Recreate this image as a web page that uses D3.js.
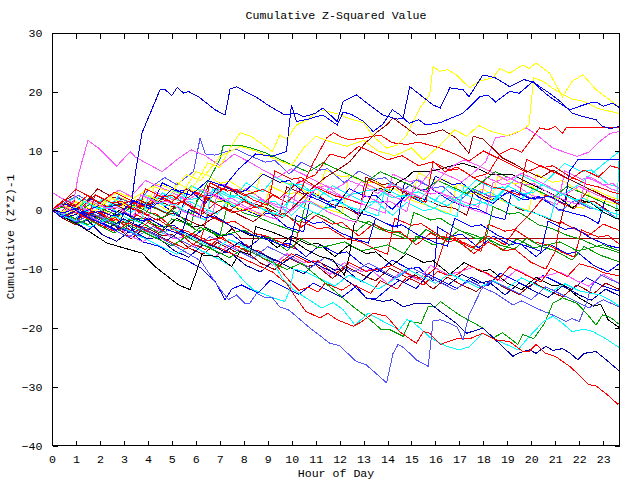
<!DOCTYPE html>
<html><head><meta charset="utf-8">
<script src="https://cdn.jsdelivr.net/npm/d3@7"></script>
<style>body{margin:0;background:#fff}svg{display:block}text{font-family:"Liberation Mono","DejaVu Sans Mono",monospace;font-size:11.6px;fill:#000}</style>
</head><body><svg id="c" width="640" height="480"></svg>
<script>
const title = "Cumulative Z-Squared Value";
const xTitle = "Hour of Day";
const yTitle = "Cumulative (Z*Z)-1";
const xTicks = d3.range(0, 24);
const yTicks = [-40, -30, -20, -10, 0, 10, 20, 30];

const s01 = [[0,0],[0.5,-0.5],[1,0.3],[1.5,-0.8],[2,-0.2],[2.5,-1],[3,-0.5],[3.25,-1],[3.47,6],[3.75,13],[4.51,20.4],[4.72,20.4],[5.0,19.4],[5.23,20.8],[5.49,19.8],[5.69,20.1],[6.11,19.2],[6.8,17.0],[7.22,16.1],[7.43,20.5],[7.7,20.9],[8.05,20.1],[8.5,19.2],[9.0,17.8],[9.72,16.1],[10.2,16.4],[10.5,15.8],[11.0,16.4],[11.3,17.3],[11.9,15.0],[12.15,18.4],[12.7,19.5],[13.8,16.1],[14.4,15.4],[14.65,15.6],[14.93,20.9],[15.9,17.8],[16.2,17.3],[16.6,20.7],[17.15,20.4],[17.4,19.2],[17.98,22.9],[18.5,22.4],[19.1,20.9],[19.7,22.1],[20.1,21.6],[20.76,19.8],[21.3,18.1],[21.7,16.4],[22.2,15.8],[22.7,15.3],[22.97,14.2],[23.3,13.8],[23.7,14.2]];
const s02 = [[0,0],[0.6,1],[1.2,-0.5],[2,0.8],[2.8,-0.6],[3.4,1.5],[4.2,0.5],[5,3.5],[5.8,2.5],[6.5,5],[7.2,4],[7.8,7],[8.5,9.5],[9.17,9.1],[9.78,9.9],[9.99,17.8],[10.2,15.0],[10.7,15.4],[11.0,15.8],[11.3,16.1],[11.9,14.4],[12.15,16.6],[12.5,16.2],[13.0,15.0],[13.4,13.3],[13.8,14.5],[14.2,17.0],[14.5,16.2],[14.9,14.7],[15.3,15.3],[15.6,14.4],[16.2,14.8],[16.6,15.5],[17.15,16.4],[17.85,19.2],[18.2,19.5],[18.5,18.3],[19.1,20.1],[19.5,19.8],[20.07,21.8],[20.35,20.6],[20.76,19.2],[21.6,17.0],[22.4,18.1],[22.7,18.3],[23.0,17.6],[23.4,18.1],[23.7,17.3]];
const s03 = [[0,0],[0.5,0.8],[1,-0.3],[1.5,1.2],[2,0.5],[2.5,2],[3,1],[3.5,0.5],[4,2.5],[4.5,1.5],[5,3.5],[5.5,2.8],[6,4.5],[6.5,8],[7,7.2],[7.5,11],[7.85,13.1],[8.3,12.5],[9.2,9.9],[9.5,12.7],[9.8,12],[10.2,14.4],[10.6,15.2],[11.2,17.0],[11.9,16.3],[12.4,15.5],[13,14.8],[13.4,12.5],[13.96,10.5],[14.4,11],[14.8,12.7],[15.35,17.3],[15.76,19.5],[15.9,24.3],[16.18,23.5],[16.5,23.8],[16.87,22.9],[17.43,20.7],[17.8,21.8],[18.4,22.4],[18.68,24.0],[19.1,23.2],[19.65,24.6],[19.9,24.0],[20.2,24.9],[20.76,23.2],[21.3,19.2],[21.7,21.8],[22.15,22.9],[22.7,20.4],[23.26,18.7],[23.7,17.3]];
const s04 = [[0,0],[0.7,-0.6],[1.3,1.5],[2,0.8],[2.7,3],[3.4,2],[4.2,4],[5,3],[5.6,6],[6.2,5],[7,9],[7.85,10.8],[8.5,10],[9.5,8.3],[10,7.6],[10.5,10.5],[11,12.5],[11.6,11.6],[12.3,10.8],[13,11.8],[13.6,10],[14.3,9.2],[15,10.5],[15.5,8.5],[16.2,11],[16.8,13.6],[17.3,12.5],[17.8,14.3],[18.4,13.2],[19,12.6],[19.6,13.5],[19.9,14.4],[20.1,22.4],[20.5,21.8],[20.9,20.6],[21.3,19.6],[21.7,18.8],[22.2,18.4],[22.8,17.2],[23.3,16.7],[23.7,16.3]];
const s05 = [[0,0],[0.5,1.8],[1,0.8],[1.5,2.5],[2,1],[2.6,0.2],[3.2,1.5],[3.8,0.5],[4.5,2],[5.2,0.8],[6,3],[6.6,2],[7.3,4],[8,2.5],[8.8,3.5],[9.5,2],[10.2,4.5],[11,6],[11.6,9.5],[12.2,8.8],[12.8,10.8],[13.4,9.7],[14,8.5],[14.6,9.2],[15.3,7.5],[15.9,8.2],[16.4,6.5],[16.9,7.3],[17.6,5.5],[18.2,6.2],[18.7,9.5],[19.2,10.5],[19.6,9.8],[19.93,11.6],[20.35,13.9],[20.7,13.6],[21.0,14.2],[21.3,13.0],[21.46,14.0],[23.7,14.0]];
const s06 = [[0,0],[0.5,-0.6],[1,0.8],[1.5,0],[2,-0.7],[2.6,1.5],[3.2,0.4],[3.8,-0.6],[4.4,-1.7],[5,-0.5],[5.6,-1.6],[6.2,-2.7],[6.8,-1.2],[7.4,-2.6],[7.9,-4.9],[23.7,-4.9]];
const s07 = [[0,0],[0.6,1.2],[1.2,0.3],[1.8,2.5],[2.4,1.4],[3,0.2],[3.6,1.8],[4.2,0.6],[4.8,-0.6],[5.4,1.5],[6,0.3],[6.6,-1],[7.2,0.5],[7.8,-0.8],[8.4,-2],[9,0],[9.6,-1.3],[10.2,1],[10.8,3.5],[11.4,5.5],[12,7],[12.43,8.2],[13,11],[13.5,13],[13.96,14.4],[14.23,15.6],[14.7,14.2],[15.2,12.7],[15.7,12.9],[16.3,13.6],[16.87,12.2],[17.4,9.6],[17.57,12.5],[18,12],[18.8,8.8],[19.3,7.8],[19.8,6.6],[20.4,5.5],[20.9,6.8],[21.4,5.6],[22,4.4],[22.6,3.2],[23.2,2],[23.7,0.8]];
const s08 = [[0,0],[0.5,1.5],[1,3.5],[1.5,2.4],[2,1.2],[2.6,3],[3.2,1.8],[3.8,0.6],[4.4,2.5],[5,1.3],[5.6,3.6],[6.2,2.4],[6.8,1.1],[7.4,-0.1],[8,1.5],[8.6,0.3],[9.2,2.5],[9.8,1.3],[10.4,3.5],[10.9,8],[11.46,12.2],[11.74,13.1],[12.1,12.3],[12.4,11.9],[13,12.2],[13.7,12.7],[14.2,11.4],[14.8,11.1],[15.3,11.5],[16.2,10.5],[16.8,9.5],[17.4,8.3],[18,10],[18.6,8.8],[19.2,7.6],[19.8,6.4],[20.4,7.5],[21,6.3],[21.6,5.1],[22.2,6.8],[22.8,5.6],[23.3,7.5],[23.7,7]];
const s09 = [[0,0],[0.5,-1.2],[1,-2.3],[1.53,-3.6],[2.29,-5.6],[3.05,-6.5],[3.75,-7.3],[4.3,-9.6],[5.28,-12.7],[5.76,-13.5],[6.1,-9.6],[6.25,-7.6],[6.94,-7.9],[7.5,-9.6],[7.85,-7.0],[8.26,-7.6],[8.5,-2.8],[9.1,-3.6],[9.65,-4.5],[10.1,-5.3],[10.6,-6.7],[11.2,-7.9],[11.7,-8.4],[12.2,-11],[12.4,-7.9],[12.6,-2.5],[13.1,0.6],[13.4,3.1],[13.7,3.7],[14.1,2.9],[14.4,4.6],[14.8,5.5],[15.07,6.5],[15.76,6.5],[16.6,7.4],[17.15,7.9],[17.7,7.2],[18.3,6.0],[19.2,6.0],[19.9,4.6],[20.76,2.9],[21.3,1.7],[21.7,0.3],[22.1,1.6],[22.5,1.2],[22.98,-0.3],[23.5,-1.4],[23.7,-1.4]];
const s10 = [[0,0],[0.5,-1],[1,-2],[1.5,-1],[2,-2.2],[2.6,-3.4],[3.2,-4.6],[3.8,-3],[4.4,-4.4],[5,-5.8],[5.6,-7.2],[6.2,-8.6],[6.6,-11],[6.94,-13.0],[7.36,-15.2],[7.7,-14.4],[8.05,-15.8],[8.26,-15.8],[8.54,-14.1],[8.9,-14.9],[9.2,-14.9],[9.5,-16.4],[9.9,-17],[10.76,-20.0],[11.6,-22.6],[12.0,-23],[12.7,-25.7],[13.1,-26.2],[13.96,-29.3],[14.23,-24.3],[14.44,-22.8],[14.7,-23.4],[15.2,-25.4],[15.7,-26.5],[15.9,-18.8],[16.2,-18.6],[16.6,-19.2],[16.9,-19.8],[17.15,-22],[17.4,-17.8],[17.9,-13.6],[18.3,-12],[18.8,-12.8],[19.4,-14],[20,-15.2],[20.6,-13],[21.2,-14.2],[21.8,-15.4],[22.4,-16.6],[23,-15.2],[23.7,-16.5]];
const s11 = [[0,0],[0.6,-1.1],[1.2,-2.2],[1.8,-0.8],[2.4,-2],[3,-3.2],[3.6,-4.4],[4.2,-2.8],[4.8,-4],[5.4,-5.2],[6,-6.4],[6.6,-4.5],[7.2,-5.8],[7.8,-7],[8.4,-8.2],[9,-6.2],[9.6,-7.4],[10.2,-8.6],[10.8,-9.8],[11.4,-8],[12,-9.3],[12.6,-10.5],[13.2,-9],[13.8,-10.3],[14.4,-11.5],[15,-9.8],[15.6,-11],[16.2,-12.3],[16.8,-13.5],[17.4,-12],[18,-13.2],[18.5,-14.1],[19.23,-16.1],[19.6,-15.4],[20.35,-16.9],[21.0,-18.0],[21.46,-18.9],[21.7,-18.4],[22,-18.9],[22.3,-15.8],[22.5,-13],[22.9,-11],[23.3,-11.8],[23.7,-12.5]];
const s12 = [[0,0],[0.5,-1],[1,-0.2],[1.5,-1.2],[2,-2.2],[2.6,-1],[3.2,-2.2],[3.8,-3.4],[4.4,-4.6],[5,-3],[5.6,-4.2],[6.2,-5.4],[6.8,-6.6],[7.4,-5],[8,-6.2],[8.6,-7.4],[9.2,-8.6],[9.6,-11.5],[10.07,-13.5],[10.6,-14.9],[11.25,-16.6],[11.74,-15.7],[12.15,-16.9],[12.64,-19.5],[13.2,-17.5],[13.96,-19.2],[14.5,-20.3],[14.8,-18.6],[15.0,-18.8],[15.6,-20.9],[15.76,-21.6],[16.46,-23.1],[17.0,-23.7],[17.4,-23.2],[17.98,-20.9],[18.96,-22.8],[19.44,-23.7],[19.93,-21.4],[20.5,-18.9],[20.9,-18.0],[21.3,-19.2],[21.7,-20.6],[22.2,-20.2],[22.57,-20.6],[23.1,-21.8],[23.7,-23.4]];
const s13 = [[0,0],[0.5,-0.8],[1,-1.8],[1.6,-2.9],[2.2,-1.5],[2.8,-2.7],[3.4,-3.9],[4,-5.1],[4.6,-6.3],[5.2,-7.5],[5.8,-6],[6.4,-7.2],[7,-8.4],[7.5,-9.6],[8,-12],[8.4,-13.5],[9.23,-14.9],[9.72,-15.5],[9.93,-13.5],[10.1,-10],[10.6,-10.5],[11.2,-11.7],[11.8,-12.9],[12.4,-11],[13,-12.2],[13.6,-13.4],[14.2,-12],[14.8,-10],[15.4,-11.2],[16,-12.4],[16.6,-10.8],[17.2,-12],[17.8,-13.2],[18.4,-12],[19,-13.2],[19.6,-11.5],[20.2,-12.7],[20.8,-13.9],[21.4,-12.5],[22,-13.7],[22.85,-14.4],[23.3,-15.3],[23.7,-16.4]];
const s14 = [[0,0],[0.5,-1.2],[1,-2.4],[1.5,-1.5],[2,-2.7],[2.6,-3.9],[3.2,-2.5],[3.8,-3.7],[4.4,-4.9],[5,-6.1],[5.6,-4.5],[6.2,-5.7],[6.8,-6.9],[7.4,-8.1],[8,-6.5],[8.6,-7.7],[9.2,-8.9],[9.8,-10.1],[10.4,-9],[11,-11],[11.73,-13.5],[12.57,-16.4],[13.1,-18.0],[13.75,-20.3],[14.1,-20.3],[14.65,-21.4],[14.93,-18.9],[15.4,-19.2],[15.7,-16.4],[16.0,-16.4],[16.2,-15.5],[17.0,-17.8],[17.98,-20.0],[18.4,-21.7],[18.8,-20.8],[19.44,-22.8],[19.65,-21.1],[20.1,-21.8],[20.55,-19.2],[20.9,-15.8],[21.3,-14.9],[21.9,-15.8],[22.3,-17.5],[22.7,-19.5],[22.97,-17.8],[23.3,-18.2],[23.7,-19.5]];
const s15 = [[0,0],[0.6,-1.2],[1.2,-0.5],[1.8,-1.7],[2.4,-2.9],[3,-1.5],[3.6,-2.7],[4.2,-3.9],[4.8,-5.1],[5.4,-3.5],[6,-4.7],[6.6,-5.9],[7.2,-7.1],[7.8,-5.5],[8.4,-6.7],[9,-7.9],[9.6,-9.1],[10.2,-7.5],[10.8,-8.7],[11.4,-9.9],[12,-11.1],[12.5,-12.5],[13.1,-14.9],[13.8,-15.5],[14.2,-15.2],[14.65,-16.4],[15.2,-15.8],[15.76,-15.8],[16.2,-17.2],[16.87,-19.2],[17.3,-20.9],[17.6,-20.5],[17.98,-20.0],[18.5,-22],[19.23,-24.8],[19.5,-24.2],[19.93,-23.7],[20.2,-24.3],[20.6,-23.1],[20.9,-23.8],[21.3,-23.5],[21.6,-24.2],[21.94,-25.4],[22.2,-24.3],[22.7,-24.0],[23.1,-25.3],[23.7,-27.4]];
const s16 = [[0,0],[0.5,-1.1],[1,-0.3],[1.5,-1.4],[2,-2.5],[2.6,-3.6],[3.2,-2.2],[3.8,-3.3],[4.4,-4.4],[5,-5.5],[5.6,-6.6],[6.2,-5],[6.8,-6.1],[7.4,-7.2],[8,-8.3],[8.6,-9.4],[9.2,-10.5],[9.8,-12.5],[10.2,-15],[10.6,-17.2],[11.18,-18.3],[11.5,-17.5],[11.9,-18.6],[12.57,-19.7],[12.9,-19],[13.4,-17.5],[13.96,-18.0],[14.5,-20.6],[15.2,-22.6],[15.5,-20.6],[15.76,-20.9],[16.2,-22.8],[16.6,-22.2],[17.0,-21.7],[17.5,-21.7],[17.98,-20.9],[18.5,-22],[19.1,-22.3],[19.65,-24.0],[19.9,-24.0],[20.2,-22.8],[20.6,-24.3],[21.0,-24.8],[21.6,-26.5],[22.0,-28],[22.4,-29.6],[22.7,-29.8],[23.26,-31.6],[23.6,-32.9],[23.7,-32.8]];
const s17 = [[0,0],[0.3,-0.6],[0.7,0.9],[1.2,0.2],[1.5,-0.7],[1.9,-0.3],[2.4,-1.6],[2.7,-1.2],[3.1,-2.4],[3.5,-0.8],[4.1,-1.9],[4.4,-1.5],[5,-3.1],[5.6,-4.5],[5.9,-4.0],[6.5,-5.2],[7.1,-4.6],[7.6,-6.0],[8.3,-7.2],[8.6,-6.8],[9.2,-8.6],[9.9,-12],[10.3,-13.6],[10.7,-13.1],[11.1,-13.9],[11.4,-12.4],[12.1,-13.6],[12.5,-12.5],[13.3,-14.1],[13.7,-12.0],[14.4,-13.4],[14.8,-11.4],[15.5,-12.7],[16.1,-10.4],[16.6,-11.2],[16.9,-11.0],[17.4,-9.4],[18.2,-10.8],[18.6,-11.9],[19.1,-9.6],[19.8,-11.1],[20.4,-12.2],[20.8,-9.9],[21.5,-11.3],[22.0,-9.1],[22.6,-9.8],[23.0,-10.6],[23.7,-11.2]];
const s18 = [[0,0],[0.4,0.7],[1.0,-0.5],[1.6,1.9],[2.3,0.5],[2.7,0.8],[3.4,1.6],[4.1,0.2],[4.6,4.6],[5.3,3.2],[5.7,3.5],[6.4,1.1],[7.0,4.4],[7.7,3.0],[8.1,3.3],[8.8,6.1],[9.5,4.7],[9.9,5.0],[10.6,2.6],[11.3,1.4],[11.8,0.4],[12.4,3.6],[13.1,2.2],[13.5,2.5],[14.2,0.1],[14.8,2.6],[15.5,1.2],[16.0,5.7],[16.7,4.3],[17.1,4.6],[17.8,2.2],[18.4,1.1],[19.0,3.1],[19.7,1.7],[20.1,2.0],[20.8,2.3],[21.4,1.0],[21.6,6.6],[21.94,8.5],[23.7,8.5]];
const s19 = [[0,3],[0.4,2],[0.9,1.2],[1.1,6],[1.5,11.8],[1.94,10.5],[2.7,7.4],[3.26,9.9],[3.47,9.0],[4,7.8],[4.6,6.5],[5.2,8.5],[5.8,10.2],[6.4,9.2],[7,7.5],[7.6,9.5],[8.2,8.2],[8.8,6.8],[9.4,5.5],[10,7],[10.6,5.8],[11.2,4.5],[11.8,3.5],[12.4,5],[13,4],[13.6,2.8],[14.2,4.5],[14.8,3.2],[15.4,2],[16,4.5],[16.6,7.2],[17.2,8.5],[17.8,7.5],[18.4,6.3],[19,5],[19.6,6.2],[20.2,5.1],[20.8,3.8],[21.4,2.6],[22,4],[22.6,2.8],[23.2,1.8],[23.7,1]];
const s20 = [[0,0],[0.5,-0.6],[1,0.9],[1.6,-0.2],[2.2,1.8],[2.8,3.4],[3.3,2.3],[3.9,5],[4.5,3.9],[5.1,2.8],[5.7,1.7],[6.3,3.5],[6.9,2.4],[7.5,1.3],[8.1,0.2],[8.7,1.8],[9.3,0.7],[9.9,-0.4],[10.5,1.5],[11.1,4],[11.7,2.9],[12.3,1.8],[12.9,4.8],[13.5,3.7],[14.1,2.6],[14.7,1.5],[15.3,4],[15.9,7],[16.5,5.9],[17.1,4.8],[17.5,6],[18.1,8.2],[18.5,12.2],[19.2,12.8],[19.8,13.9],[20.3,12.5],[20.9,10.5],[21.4,9.8],[21.9,9.1],[22.4,9.8],[22.85,11.6],[23.3,13],[23.7,13.3]];
const s21 = [[0,0],[0.5,-0.7],[1,0.6],[1.5,-0.3],[2.1,1.8],[2.7,0.7],[3.3,-0.4],[3.9,1.2],[4.5,0.1],[5.1,-1],[5.7,1.5],[6.3,0.4],[6.9,-0.7],[7.5,2.5],[8.1,1.4],[8.7,0.3],[9.3,-0.8],[9.9,1.5],[10.5,0.4],[11.1,-0.7],[11.7,1.8],[12.3,0.7],[12.9,-0.4],[13.5,1.5],[14.1,4.5],[14.7,3.4],[15.3,2.3],[15.9,1.2],[16.5,4],[17.1,2.9],[17.7,1.8],[18.3,0.7],[18.9,3.5],[19.5,6],[20.1,4.9],[20.7,3.8],[21.3,2.7],[21.9,1.6],[22.5,0.5],[23.1,-0.6],[23.55,-1.3],[23.7,12]];
const s22 = [[0,0],[0.4,-0.7],[0.8,-2.0],[1.3,-1.4],[1.7,-0.7],[2.3,-2.1],[2.9,-3.0],[3.3,-1.2],[3.8,-2.3],[4.5,-3.9],[5.0,-1.5],[5.5,-2.1],[6.1,-3.6],[6.5,-3.1],[7.0,-4.5],[7.3,0.5],[7.5,3.5],[8.1,2.6],[8.4,2.9],[9.0,1.0],[9.6,-0.6],[10.3,-2.0],[10.9,-0.4],[11.4,-1.2],[12.1,-2.9],[12.7,-3.6],[13.2,-1.9],[13.9,-3.3],[14.5,-3.9],[15.1,-5.4],[15.6,-3.3],[16.3,-4.7],[16.9,-5.3],[17.5,-6.9],[18.0,-4.5],[18.7,-6.0],[19.3,-6.6],[19.8,-4.8],[20.5,-6.3],[21.0,-6.9],[21.7,-8.5],[22.2,-6.2],[22.9,-7.7],[23.7,-8.8]];
const s23 = [[0,0],[0.3,1.2],[0.8,-0.1],[1.4,1.6],[2.0,0.5],[2.4,0.8],[2.8,2.2],[3.5,0.9],[4.0,0.1],[4.3,4.5],[4.8,3.9],[5.4,2.6],[6.0,6.5],[6.5,5.9],[7.0,4.5],[7.4,4.9],[8.0,3.4],[8.5,2.8],[8.7,6.2],[9.4,4.8],[10.1,4.3],[10.6,3.0],[11.1,2.6],[11.4,6.8],[12.1,5.6],[12.5,5.9],[13.2,4.1],[13.9,3.2],[14.3,3.6],[15.0,1.6],[15.3,6.3],[16.0,4.9],[16.4,5.2],[17.1,3.1],[17.8,2.6],[18.3,1.3],[18.6,5.7],[19.3,4.4],[19.7,4.8],[20.5,2.5],[21.2,1.9],[21.7,0.6],[22.2,0.3],[22.5,3.7],[23.2,2.4],[23.7,1.7]];
const s24 = [[0,0],[0.4,-0.9],[0.9,-1.6],[1.4,-0.4],[2.1,-1.9],[2.5,-2.4],[3.3,-3.9],[3.6,1.7],[4.1,0.9],[4.5,1.2],[5.3,-1.1],[5.7,3.5],[6.4,2.3],[6.8,2.7],[7.5,0.6],[8.2,-0.2],[8.6,-0.9],[9.1,-0.5],[9.8,-2.9],[10.5,-3.7],[10.8,2.7],[11.5,1.4],[11.9,1.8],[12.7,-0.4],[13.3,-1.0],[13.9,-2.2],[14.4,-2.9],[14.7,4.6],[15.4,3.3],[15.8,3.7],[16.6,1.6],[17.2,0.6],[17.8,0.1],[18.4,-1.1],[18.9,-1.6],[19.2,3.4],[19.9,2.0],[20.3,2.3],[21.1,0.2],[21.7,-0.5],[22.3,-1.1],[22.8,-2.3],[23.1,2.1],[23.7,1.1]];
const s25 = [[0,0],[0.4,1.3],[0.9,2.5],[1.4,1.2],[1.9,3.6],[2.5,2.2],[3.1,1.6],[3.8,0.1],[4.2,2.1],[4.9,0.7],[5.4,0.2],[6.2,-1.4],[6.5,4.1],[7.0,3.4],[7.4,3.6],[8.1,1.5],[8.8,0.6],[9.5,-0.6],[9.8,3.9],[10.5,2.7],[10.9,3.0],[11.7,0.9],[12.3,0.3],[12.8,-0.8],[13.1,5.6],[13.8,4.3],[14.2,4.6],[15.0,2.4],[15.7,1.6],[16.2,0.7],[16.8,0.3],[17.3,-0.9],[17.6,3.1],[18.3,1.8],[18.7,2.1],[19.5,0.1],[20.1,-0.4],[20.8,-1.7],[21.2,-2.3],[21.5,2.6],[22.2,1.2],[22.6,1.5],[23.3,-0.4],[23.7,-0.8]];
const s26 = [[0,0],[0.4,1.0],[1.1,2.5],[1.6,1.2],[2.3,0.4],[2.8,2.1],[3.5,0.8],[4.1,3.8],[4.7,5.5],[5.2,4.3],[5.9,6.5],[6.18,12.2],[6.4,9.5],[6.8,9.3],[7.2,9.8],[7.7,10.3],[8.2,9.3],[8.9,8.1],[9.3,8.4],[9.9,6.1],[10.4,8.1],[11.1,6.7],[11.5,7.0],[12.2,4.6],[12.8,6.6],[13.5,5.2],[13.9,5.5],[14.6,3.1],[15.2,5.1],[15.9,3.7],[16.3,4.0],[17.0,1.6],[17.6,3.6],[18.3,2.2],[18.7,2.4],[19.4,3.3],[20.1,1.8],[20.5,2.1],[21.2,-0.2],[21.8,1.6],[22.5,0.2],[22.9,0.5],[23.7,-1.8]];
const s27 = [[0,0],[0.4,-0.6],[0.9,1.6],[1.5,0.3],[2.0,-0.4],[2.6,-1.8],[3.2,0.6],[3.9,-0.8],[4.3,-0.5],[5.0,-2.9],[5.7,-3.7],[6.2,-5.1],[6.5,-0.9],[7.2,-2.2],[7.6,-1.9],[8.4,-3.9],[9.0,-4.5],[9.6,-5.6],[10.1,-6.5],[10.4,-1.9],[11.1,-3.2],[11.5,-2.9],[12.3,-4.9],[12.9,-5.4],[13.5,-6.7],[14.0,-7.5],[14.3,-1.4],[15.0,-2.6],[15.4,-2.3],[16.2,-4.4],[16.8,-5.0],[17.4,-6.2],[17.9,-7.0],[18.2,-2.4],[18.9,-3.6],[19.3,-3.3],[20.1,-5.4],[20.7,-5.9],[21.3,-7.2],[21.8,-8.0],[22.1,-3.4],[22.8,-4.6],[23.2,-4.3],[23.7,-5.9]];
const s28 = [[0,0],[0.4,-0.7],[1.0,0.9],[1.5,-0.3],[2.2,-1.4],[2.7,0.5],[3.3,-0.9],[3.7,-0.6],[4.0,-1.9],[4.3,3.1],[5.0,1.8],[5.4,2.1],[6.1,0.1],[6.7,-0.7],[7.0,4.6],[7.7,3.3],[8.1,3.6],[8.9,1.5],[9.5,0.8],[10.0,-0.1],[10.3,5.1],[11.0,3.8],[11.4,4.1],[12.2,2.0],[12.8,1.3],[13.4,0.2],[13.9,-0.5],[14.2,6.1],[14.9,4.8],[15.3,5.1],[16.1,3.0],[16.7,2.2],[17.3,1.2],[17.8,0.5],[18.1,5.6],[18.8,4.3],[19.2,4.6],[20.0,2.5],[20.6,1.7],[21.1,0.9],[21.4,6.6],[22.1,5.2],[22.5,5.5],[23.3,3.6],[23.7,3.1]];
const s29 = [[0,0],[0.4,1.3],[1.0,0.1],[1.6,2.1],[2.3,0.7],[2.7,1.0],[3.4,-1.4],[4.0,0.9],[4.7,-0.5],[5.1,-0.2],[5.8,-2.6],[6.1,2.6],[6.8,1.3],[7.2,1.6],[8.0,-0.5],[8.6,-1.2],[9.2,-2.3],[9.7,-3.0],[10.3,-3.9],[10.6,1.6],[11.3,0.3],[11.7,0.6],[12.5,-1.5],[13.1,-2.2],[13.7,-3.3],[14.2,-4.0],[14.8,-4.9],[15.1,-0.4],[15.8,-1.7],[16.2,-1.4],[17.0,-3.5],[17.6,-4.2],[18.1,-5.1],[18.4,0.6],[19.1,-0.7],[19.5,-0.4],[20.3,-2.5],[20.9,-3.2],[21.5,-4.3],[22.1,-5.0],[22.7,-6.1],[23.2,-6.6],[23.7,-7.3]];
const s30 = [[0,0],[0.4,0.6],[1.0,-0.6],[1.6,1.1],[2.1,0.2],[2.5,0.5],[2.8,2.6],[3.5,1.2],[4.0,0.2],[4.6,2.9],[5.3,1.5],[5.8,4.1],[6.5,2.7],[6.9,3.0],[7.6,0.6],[8.2,2.6],[8.9,1.2],[9.3,1.5],[10.0,-0.9],[10.6,1.6],[11.3,0.2],[11.7,0.5],[12.4,2.6],[13.1,1.2],[13.5,1.5],[14.2,-0.9],[14.8,1.3],[15.5,-0.1],[15.9,0.2],[16.6,2.1],[17.3,0.7],[17.7,1.0],[18.4,1.6],[19.0,4.1],[19.7,2.7],[20.1,3.0],[20.8,5.6],[21.4,7.9],[22.1,6.5],[22.5,6.8],[23.2,4.4],[23.7,3.8]];
const s31 = [[0,0],[0.4,-0.8],[1.0,0.6],[1.7,-0.9],[2.2,-1.8],[2.8,-0.1],[3.5,-1.6],[3.9,-1.3],[4.6,-3.6],[5.2,-1.4],[5.9,-2.9],[6.3,-2.6],[7.0,-4.9],[7.6,-2.9],[8.3,-4.4],[8.7,-4.1],[9.4,-6.4],[10.0,-4.4],[10.7,-5.9],[11.1,-5.6],[11.8,-7.9],[12.4,-5.9],[13.1,-7.4],[13.5,-7.1],[14.2,-9.4],[14.8,-7.4],[15.5,-8.9],[15.9,-8.6],[16.6,-10.9],[17.2,-8.9],[17.9,-10.4],[18.3,-10.1],[19.0,-12.4],[19.6,-13.5],[20.2,-11.4],[20.9,-12.9],[21.3,-12.6],[22.0,-14.9],[22.6,-16.3],[22.9,-16.0],[23.2,-18.6],[23.7,-20.0]];
const s32 = [[0,0],[0.4,-0.9],[1.0,-2.1],[1.5,-1.8],[2.1,-4.2],[2.7,-5.3],[3.3,-3.4],[4.0,-4.9],[4.4,-4.6],[5.1,-6.9],[5.7,-8.0],[6.3,-5.9],[7.0,-7.4],[7.4,-7.1],[8.1,-9.4],[8.7,-10.5],[9.3,-8.4],[10.0,-9.9],[10.5,-10.8],[11.1,-8.7],[11.8,-10.2],[12.2,-9.9],[12.9,-12.2],[13.5,-9.9],[14.2,-11.4],[14.7,-12.3],[15.3,-10.4],[16.0,-11.9],[16.5,-12.8],[17.1,-10.9],[17.8,-12.4],[18.2,-12.1],[18.9,-14.4],[19.5,-12.4],[20.2,-13.9],[20.7,-14.8],[21.3,-12.9],[22.0,-14.4],[22.5,-15.3],[23.1,-13.4],[23.7,-14.6]];
const s33 = [[0,0],[0.4,-0.7],[1.0,-1.7],[1.6,-0.4],[2.3,-1.9],[2.7,-1.6],[3.4,-3.9],[4.0,-2.1],[4.7,-3.6],[5.1,-3.3],[5.8,-5.6],[6.4,-6.7],[7.0,-4.7],[7.7,-6.2],[8.1,-5.9],[8.8,-8.2],[9.4,-9.3],[10.0,-7.4],[10.7,-8.9],[11.1,-8.6],[11.8,-10.9],[12.4,-8.9],[13.1,-10.4],[13.5,-10.1],[14.2,-9.4],[14.9,-10.9],[15.4,-11.8],[16.0,-9.9],[16.5,-3.9],[17.1,-5.4],[17.6,-6.3],[18.2,-4.4],[18.9,-5.9],[19.4,-2.9],[20.0,-0.4],[20.6,2.6],[21.3,1.1],[21.8,0.2],[22.4,3.6],[23.1,2.1],[23.7,1.5]];
const s34 = [[0,0],[0.4,-0.6],[1.0,1.4],[1.7,-0.1],[2.1,0.2],[2.8,-2.1],[3.1,2.6],[3.8,1.2],[4.2,1.5],[4.9,-0.3],[5.2,4.6],[5.9,3.2],[6.3,3.5],[7.0,1.7],[7.7,0.4],[8.2,-0.1],[8.8,-1.0],[9.1,4.1],[9.8,2.7],[10.2,3.0],[10.9,1.2],[11.6,0.0],[12.1,-0.6],[12.4,5.9],[13.1,4.5],[13.5,4.8],[14.2,3.0],[14.9,1.8],[15.5,1.0],[16.0,0.3],[16.6,-0.6],[16.9,4.6],[17.6,3.2],[18.0,3.5],[18.7,1.7],[19.4,0.5],[19.9,-0.1],[20.2,6.1],[20.9,4.7],[21.3,5.0],[22.0,3.2],[22.7,2.0],[23.2,1.4],[23.7,0.8]];
const s35 = [[0,0],[0.4,-1.1],[1.0,-2.1],[1.5,-0.9],[2.1,-2.2],[2.5,-1.9],[3.2,-4.3],[3.8,-5.4],[4.4,-3.4],[5.1,-4.9],[5.5,-4.6],[6.2,-6.9],[6.8,-8.0],[7.4,-5.9],[8.1,-7.4],[8.5,-7.1],[9.2,-9.4],[9.8,-7.4],[10.5,-8.9],[10.9,-8.6],[11.6,-10.9],[12.2,-8.9],[12.9,-10.4],[13.3,-10.1],[14.0,-12.4],[14.6,-10.4],[15.3,-11.9],[15.8,-9.4],[16.5,-10.9],[16.9,-10.6],[17.6,-9.7],[18.3,-11.2],[18.8,-12.1],[19.4,-10.1],[20.1,-11.6],[20.5,-11.3],[21.2,-10.5],[21.9,-12.0],[22.4,-12.9],[23.0,-10.9],[23.7,-12.5]];
const s36 = [[0,0],[0.5,0.5],[1,-0.5],[1.6,1],[2.2,0],[2.8,-1],[3.4,0.8],[4,-0.3],[4.6,-1.4],[5.2,0.5],[5.8,-0.6],[6.4,4],[7.0,8.5],[7.15,11.0],[7.8,11],[8.3,10.5],[8.9,9.7],[9.5,8.6],[10.1,7.5],[10.7,6.4],[11.3,8],[11.9,6.9],[12.5,5.8],[13.1,4.7],[13.7,6.5],[14.3,5.4],[14.9,4.3],[15.5,3.2],[16.1,5],[16.7,3.9],[17.3,2.8],[17.9,4.6],[18.5,6.5],[19.1,5.4],[19.7,4.3],[20.3,3.2],[20.9,2.1],[21.5,4],[22.1,2.9],[22.7,1.8],[23.3,0.7],[23.7,0]];
const s37 = [[0,0],[0.4,-0.6],[1.0,-1.6],[1.6,0.1],[2.3,-1.4],[2.7,-1.1],[3.4,-3.4],[4.0,-1.4],[4.7,-2.9],[5.1,-2.6],[5.8,-4.9],[6.4,-2.9],[7.1,-4.4],[7.5,-4.1],[8.2,-6.4],[8.8,-4.4],[9.5,-5.9],[9.9,-5.6],[10.6,-7.9],[11.2,-5.9],[11.9,-7.4],[12.3,-7.1],[13.0,-9.4],[13.6,-10.5],[14.2,-8.5],[14.9,-10.0],[15.3,-9.7],[15.9,-12.0],[16.1,-2.9],[16.7,-4.4],[17.1,-4.1],[17.8,-6.4],[18.4,-4.4],[19.1,-5.9],[19.5,-5.6],[20.2,-7.9],[20.8,-5.9],[21.5,-7.4],[21.9,-7.1],[22.6,-9.4],[23.2,-10.5],[23.7,-9.0]];
const s38 = [[0,0],[0.4,-1.3],[1.0,-2.5],[1.5,-1.4],[2.2,-2.9],[2.6,-2.6],[3.3,-4.9],[3.9,-2.9],[4.6,-4.4],[5.0,-4.1],[5.7,-6.4],[6.3,-7.5],[6.9,-5.5],[7.6,-7.0],[8.0,-6.7],[8.7,-9.0],[9.3,-10.1],[9.9,-8.1],[10.6,-9.6],[11.0,-9.3],[11.7,-11.6],[12.3,-9.6],[13.0,-11.1],[13.5,-12.0],[14.1,-9.9],[14.8,-11.4],[15.2,-11.1],[15.9,-13.4],[16.5,-11.4],[17.2,-12.9],[17.7,-13.8],[18.3,-11.9],[19.0,-13.4],[19.5,-14.3],[20.1,-12.3],[20.8,-13.8],[21.3,-14.7],[21.9,-12.7],[22.6,-14.2],[23.1,-12.4],[23.7,-13.5]];
const s39 = [[0,0],[0.4,0.8],[1.0,-0.4],[1.5,1.1],[2.1,-0.2],[2.6,-1.2],[3.2,0.9],[3.9,-0.6],[4.4,2.6],[5.1,1.1],[5.5,1.4],[6.2,-0.9],[6.8,1.1],[7.5,-0.4],[7.9,-0.1],[8.6,0.6],[9.3,-0.9],[9.7,-0.6],[10.4,-2.9],[11.0,-0.9],[11.7,-2.4],[12.1,-2.1],[12.8,-4.4],[13.4,-2.4],[14.1,-3.9],[14.5,-3.6],[15.2,-5.9],[15.8,-3.9],[16.5,-5.4],[16.9,-5.1],[17.6,-7.4],[18.2,-5.4],[18.9,-6.9],[19.3,-6.6],[20.0,-8.9],[20.6,-10.0],[21.0,-7.0],[21.2,-1.9],[21.9,-3.4],[22.4,-4.3],[23.0,-2.4],[23.7,-3.5]];
const s40 = [[0,0],[0.4,0.9],[1.0,2.1],[1.6,0.8],[2.1,-0.1],[2.7,1.9],[3.4,0.4],[3.9,2.6],[4.6,1.1],[5.1,3.3],[5.8,1.8],[6.2,2.1],[6.9,3.6],[7.6,2.1],[8.1,4.6],[8.8,3.1],[9.3,5.6],[10.0,4.1],[10.4,4.4],[11.1,2.1],[11.7,4.1],[12.4,2.6],[12.8,2.9],[13.5,3.6],[14.2,2.1],[14.6,2.4],[15.3,3.1],[16.0,1.6],[16.5,0.7],[17.1,2.6],[17.7,5.1],[18.4,3.6],[18.8,3.9],[19.5,1.6],[20.1,3.6],[20.8,2.1],[21.2,2.4],[21.9,4.1],[22.5,6.1],[23.1,8.1],[23.7,10]];
const s41 = [[0,0],[0.4,-1.2],[1.0,-2.1],[1.5,-3.4],[2.0,-1.9],[2.7,-3.4],[3.1,-3.1],[3.8,-5.4],[4.5,-6.2],[5.0,-7.6],[5.6,-8.5],[6.2,-9.8],[6.8,-12.1],[7.22,-15.2],[7.5,-13.4],[7.9,-12.7],[8.6,-14.1],[9.1,-11.9],[9.8,-13.3],[10.3,-14.3],[10.9,-12.4],[11.6,-13.8],[12.1,-14.8],[12.7,-12.9],[13.1,-14.9],[13.5,-15.1],[14.0,-13.4],[14.5,-11.9],[15.2,-13.3],[15.7,-10.9],[16.4,-12.3],[16.9,-13.3],[17.5,-11.4],[18.2,-12.8],[18.7,-10.7],[19.4,-12.1],[19.9,-13.1],[20.5,-11.1],[21.2,-12.5],[21.7,-13.5],[22.3,-11.5],[23.0,-12.9],[23.7,-13.8]];
const s42 = [[0,0],[0.4,-0.5],[1.0,-1.5],[1.5,-2.5],[2.0,-0.9],[2.7,-2.3],[3.1,-2.0],[3.8,-1.4],[4.5,-2.9],[4.9,-2.6],[5.6,-4.9],[6.2,-2.9],[6.9,-4.4],[7.3,-4.1],[8.0,-3.4],[8.7,-4.9],[9.1,-4.6],[9.8,-6.9],[10.4,-4.9],[11.1,-6.4],[11.5,-6.1],[12.2,-5.4],[12.9,-6.9],[13.3,-6.6],[14.0,-5.9],[14.7,-7.4],[15.2,-4.4],[15.9,-5.9],[16.3,-5.6],[17.0,-3.4],[17.7,-4.9],[18.1,-4.6],[18.8,-6.9],[19.4,-4.9],[20.1,-6.4],[20.5,-6.1],[21.2,-5.4],[21.9,-6.9],[22.3,-6.6],[23.0,-5.9],[23.7,-7.0]];
const s43 = [[0,0],[0.4,0.7],[1.0,-0.5],[1.5,-1.5],[1.8,2.6],[2.5,1.2],[2.9,1.5],[3.6,-0.3],[3.9,3.6],[4.6,2.2],[5.0,2.5],[5.7,0.7],[6.3,-0.2],[6.6,4.6],[7.3,3.2],[7.7,3.5],[8.4,1.7],[9.0,0.8],[9.3,6.6],[10.0,5.2],[10.4,5.5],[11.1,3.7],[11.8,2.4],[12.3,1.9],[12.9,1.0],[13.2,5.1],[13.9,3.7],[14.3,4.0],[15.0,2.2],[15.6,1.3],[15.9,8.1],[16.6,6.7],[17.0,7.0],[17.7,5.2],[18.4,3.9],[18.9,3.4],[19.5,2.5],[19.8,8.6],[20.5,7.2],[20.9,7.5],[21.6,5.7],[22.3,4.4],[22.8,3.9],[23.4,3.0],[23.7,2.7]];
const s44 = [[0,0],[0.4,-1.0],[1.0,-1.8],[1.3,1.6],[2.0,0.2],[2.4,0.5],[3.1,-1.3],[3.7,-2.2],[4.0,2.1],[4.7,0.7],[5.1,1.0],[5.8,-0.8],[6.4,-1.7],[6.7,3.6],[7.4,2.2],[7.8,2.5],[8.5,0.7],[9.2,-0.5],[9.7,-1.1],[10.0,4.6],[10.7,3.2],[11.1,3.5],[11.8,1.7],[12.5,0.4],[13.0,-0.1],[13.6,-1.0],[13.9,3.6],[14.6,2.2],[15.0,2.5],[15.7,0.7],[16.4,-0.5],[16.9,-1.1],[17.2,4.1],[17.9,2.7],[18.3,3.0],[19.0,1.2],[19.7,0.0],[20.2,-0.6],[20.8,-1.5],[21.1,3.1],[21.8,1.7],[22.2,2.0],[22.9,0.2],[23.7,-0.9]];
const s45 = [[0,0],[0.4,0.8],[1.0,-0.4],[1.6,1.6],[2.3,0.2],[2.7,0.5],[3.4,-1.3],[3.7,2.6],[4.4,1.2],[4.8,1.5],[5.5,-0.3],[6.1,-1.2],[6.4,3.1],[7.1,1.7],[7.5,2.0],[8.2,0.2],[8.9,-1.0],[9.4,-1.6],[9.7,2.6],[10.4,1.2],[10.8,1.5],[11.5,-0.3],[12.2,-1.5],[12.7,-2.1],[13.0,2.6],[13.7,1.2],[14.1,1.5],[14.8,-0.3],[15.1,4.1],[15.8,2.7],[16.2,3.0],[16.9,1.2],[17.6,0.0],[18.1,-0.6],[18.4,4.6],[19.0,5.6],[19.7,4.2],[20.1,4.5],[20.8,2.7],[21.5,1.5],[22.0,0.9],[22.3,5.6],[23.0,4.2],[23.4,4.5],[23.7,3.4]];
const s46 = [[0,0],[0.4,-1.2],[1.0,-0.1],[1.5,-1.3],[2.2,-2.5],[2.7,-3.5],[3.0,-0.4],[3.7,-1.8],[4.1,-1.5],[4.8,-3.3],[5.4,-4.2],[5.7,0.1],[6.4,-1.3],[6.8,-1.0],[7.5,-2.8],[8.2,-4.0],[8.7,-4.6],[9.3,-5.5],[9.9,-6.4],[10.2,-0.9],[10.9,-2.3],[11.3,-2.0],[12.0,-3.8],[12.7,-5.0],[13.2,-5.6],[13.5,-1.4],[14.2,-2.8],[14.6,-2.5],[15.3,-4.3],[16.0,-5.5],[16.5,-6.1],[16.8,-1.4],[17.5,-2.8],[17.9,-2.5],[18.6,-4.3],[19.3,-5.5],[19.8,-6.1],[20.4,-7.0],[20.7,-1.9],[21.4,-3.3],[21.8,-3.0],[22.5,-4.8],[23.2,-6.0],[23.7,-6.5]];

const allSeries = [s06,s41,s37,s38,s35,s32,s31,s29,s27,s25,s24,s22,s34,s42,s39,s28,s23,s26,s21,s30,s40,s36,s33,s18,s17,s13,s11,s14,s12,s15,s16,s10,s09,s19,s20,s08,s07,s05,s04,s03,s02,s01,s43,s44,s45,s46];
const seriesColors = ["#a00000","#0000ff","#0000ff","#a00000","#ff55ff","#0000a8","#000000","#00a000","#ff0000","#a00000","#0000ff","#00a000","#ffff00","#00a000","#ff0000","#ff55ff","#ffff00","#5555ff","#00ffff","#00ffff","#00ffff","#00a000","#ff0000","#0000ff","#ff0000","#00ffff","#5555ff","#00a000","#00ffff","#0000a8","#ff0000","#5555ff","#000000","#ff55ff","#ff55ff","#ff0000","#a00000","#ff0000","#ffff00","#ffff00","#0000ff","#0000e0","#ff0000","#00ffff","#ff55ff","#0000ff"];

const W = 640, H = 480;
const m = {l: 52, r: 20, t: 33, b: 34};
const svg = d3.select("#c");
const x = d3.scaleLinear().domain([0, 23.7]).range([m.l, W - m.r]);
const y = d3.scaleLinear().domain([-40, 30]).range([H - m.b, m.t]);

svg.append("defs").append("clipPath").attr("id","pc").append("rect")
  .attr("x", m.l).attr("y", m.t).attr("width", W - m.l - m.r).attr("height", H - m.t - m.b);

const line = d3.line().x(d => x(d[0])).y(d => y(d[1]));
const g = svg.append("g").attr("clip-path","url(#pc)");
allSeries.forEach((s, i) => {
  g.append("path").attr("d", line(s)).attr("fill","none")
    .attr("stroke", seriesColors[i]).attr("stroke-width", 1)
    .attr("shape-rendering","crispEdges");
});

svg.append("rect").attr("x", m.l + 0.5).attr("y", m.t + 0.5)
  .attr("width", W - m.l - m.r - 1).attr("height", H - m.t - m.b - 1)
  .attr("fill","none").attr("stroke","#000").attr("shape-rendering","crispEdges");

const tl = 5;
const axB = d3.axisBottom(x).tickValues(xTicks).tickSizeInner(-tl).tickSizeOuter(0).tickPadding(9).tickFormat(d3.format("d"));
const axT = d3.axisTop(x).tickValues(xTicks).tickSizeInner(-tl).tickSizeOuter(0).tickFormat("");
const axL = d3.axisLeft(y).tickValues(yTicks).tickSizeInner(-tl).tickSizeOuter(0).tickPadding(10).tickFormat(d3.format("d"));
const axR = d3.axisRight(y).tickValues(yTicks).tickSizeInner(-tl).tickSizeOuter(0).tickFormat("");
function style(sel){ sel.select(".domain").remove(); sel.selectAll("line").attr("stroke","#000").attr("shape-rendering","crispEdges"); sel.selectAll("text").attr("font-family",null).attr("font-size",null); }
svg.append("g").attr("transform",`translate(0,${H - m.b - 0.5})`).call(axB).call(style);
svg.append("g").attr("transform",`translate(0,${m.t + 0.5})`).call(axT).call(style);
svg.append("g").attr("transform",`translate(${m.l + 0.5},0)`).call(axL).call(style);
svg.append("g").attr("transform",`translate(${W - m.r - 0.5},0)`).call(axR).call(style);

svg.append("text").attr("x", 336).attr("y", 19).attr("text-anchor","middle").text(title);
svg.append("text").attr("x", 336).attr("y", 477).attr("text-anchor","middle").text(xTitle);
svg.append("text").attr("transform","translate(14,237) rotate(-90)").attr("text-anchor","middle").text(yTitle);
</script></body></html>
